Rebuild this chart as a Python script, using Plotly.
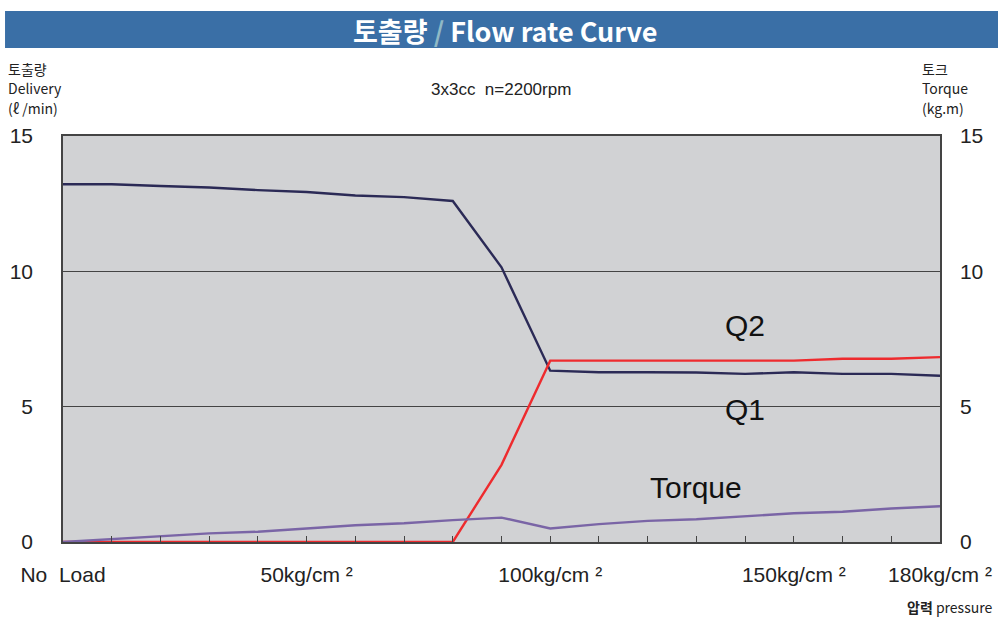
import plotly.graph_objects as go

pressure = [0, 10, 20, 30, 40, 50, 60, 70, 80, 90, 100, 110, 120, 130, 140, 150, 160, 170, 180]
q1 = [13.22, 13.22, 13.15, 13.10, 13.00, 12.93, 12.80, 12.74, 12.60, 10.15, 6.33, 6.27, 6.27, 6.26, 6.21, 6.27, 6.21, 6.21, 6.14]
q2 = [0, 0, 0, 0, 0, 0, 0, 0, 0, 2.85, 6.70, 6.70, 6.70, 6.70, 6.70, 6.70, 6.77, 6.77, 6.83]
torque = [0, 0.10, 0.22, 0.32, 0.38, 0.50, 0.62, 0.69, 0.81, 0.90, 0.50, 0.66, 0.78, 0.84, 0.96, 1.06, 1.12, 1.24, 1.32]

x_tickvals = [0, 50, 100, 150, 180]
x_ticktext = ["No  Load", "50kg/cm ²", "100kg/cm ²", "150kg/cm ²", "180kg/cm ²"]
y_ticks = [0, 5, 10, 15]

FONT = "Liberation Sans, Arial, sans-serif"
KFONT = "Noto Sans CJK KR, sans-serif"

fig = go.Figure()
fig.add_trace(go.Scatter(x=pressure, y=q1, mode="lines", line=dict(color="#2b2a56", width=2.4), name="Q1"))
fig.add_trace(go.Scatter(x=pressure, y=q2, mode="lines", line=dict(color="#ee2b2e", width=2.4), name="Q2"))
fig.add_trace(go.Scatter(x=pressure, y=torque, mode="lines", line=dict(color="#7a65a6", width=2.4), name="Torque", yaxis="y2"))

fig.update_layout(
    width=998, height=617,
    margin=dict(l=63, r=58, t=136, b=75, autoexpand=False),
    paper_bgcolor="white",
    plot_bgcolor="#d1d2d4",
    showlegend=False,
    font=dict(family=FONT, color="#222"),
    xaxis=dict(
        range=[0, 180], tickvals=x_tickvals, ticktext=x_ticktext, automargin=False,
        ticks="inside", ticklen=6, tickcolor="#444", tickwidth=1,
        minor=dict(dtick=10, ticks="inside", ticklen=6, tickcolor="#444", tickwidth=1, showgrid=False),
        showgrid=False, zeroline=False, showline=True, linecolor="#444", linewidth=1.5, mirror=True,
        tickfont=dict(size=21, family=FONT, color="#222"), ticklabelstandoff=13,
    ),
    yaxis=dict(
        range=[0, 15], tickvals=y_ticks, showgrid=True, gridcolor="#444", gridwidth=1, automargin=False,
        zeroline=False, showline=True, linecolor="#444", linewidth=1.5,
        tickfont=dict(size=21, family=FONT, color="#222"), ticks="", ticklabelstandoff=24,
    ),
    yaxis2=dict(
        range=[0, 15], tickvals=y_ticks, overlaying="y", side="right", showgrid=False, automargin=False,
        zeroline=False, showline=True, linecolor="#444", linewidth=1.5,
        tickfont=dict(size=21, family=FONT, color="#222"), ticks="", ticklabelstandoff=14,
    ),
)

# title bar
fig.add_shape(type="rect", xref="paper", yref="paper", x0=-0.0661, x1=1.07, y0=1.2167, y1=1.308,
              fillcolor="#3a6fa6", line=dict(width=0), layer="below")

def label(x, y, text, size, anchor="left", family=KFONT, color="#222"):
    return dict(x=x, y=y, xref="paper", yref="paper", text=text, font=dict(family=family, size=size, color=color),
                showarrow=False, xanchor=anchor, yanchor="middle")

def py(p):
    return (542 - p) / 406

def px(p):
    return (p - 63) / 877

anns = [
    label(px(505), py(30), "<b>토출량 <span style='color:#8fb9c6'>/</span> Flow rate Curve</b>", 27, "center", KFONT, "white"),
    label(px(6), py(68.5), "토출량", 14),
    label(px(6), py(88.5), "Delivery", 14),
    label(px(6), py(107.5), "(ℓ /min)", 14),
    label(px(920), py(68.5), "토크", 14),
    label(px(920), py(88.5), "Torque", 14),
    label(px(920), py(107.5), "(kg.m)", 14),
    label(px(501), py(89), "3x3cc  n=2200rpm", 17, "center", FONT),
    label(px(994), py(607), "<b>압력</b> pressure", 14, "right"),
    dict(x=140, y=8.0, xref="x", yref="y", text="Q2", font=dict(family=FONT, size=30, color="#111"), showarrow=False),
    dict(x=140, y=4.88, xref="x", yref="y", text="Q1", font=dict(family=FONT, size=30, color="#111"), showarrow=False),
    dict(x=130, y=2.03, xref="x", yref="y", text="Torque", font=dict(family=FONT, size=30, color="#111"), showarrow=False),
]
fig.update_layout(annotations=anns)

fig.write_html("out.html", config={"displayModeBar": False},
               post_script="document.body.style.margin='0';document.body.style.overflow='hidden';")
